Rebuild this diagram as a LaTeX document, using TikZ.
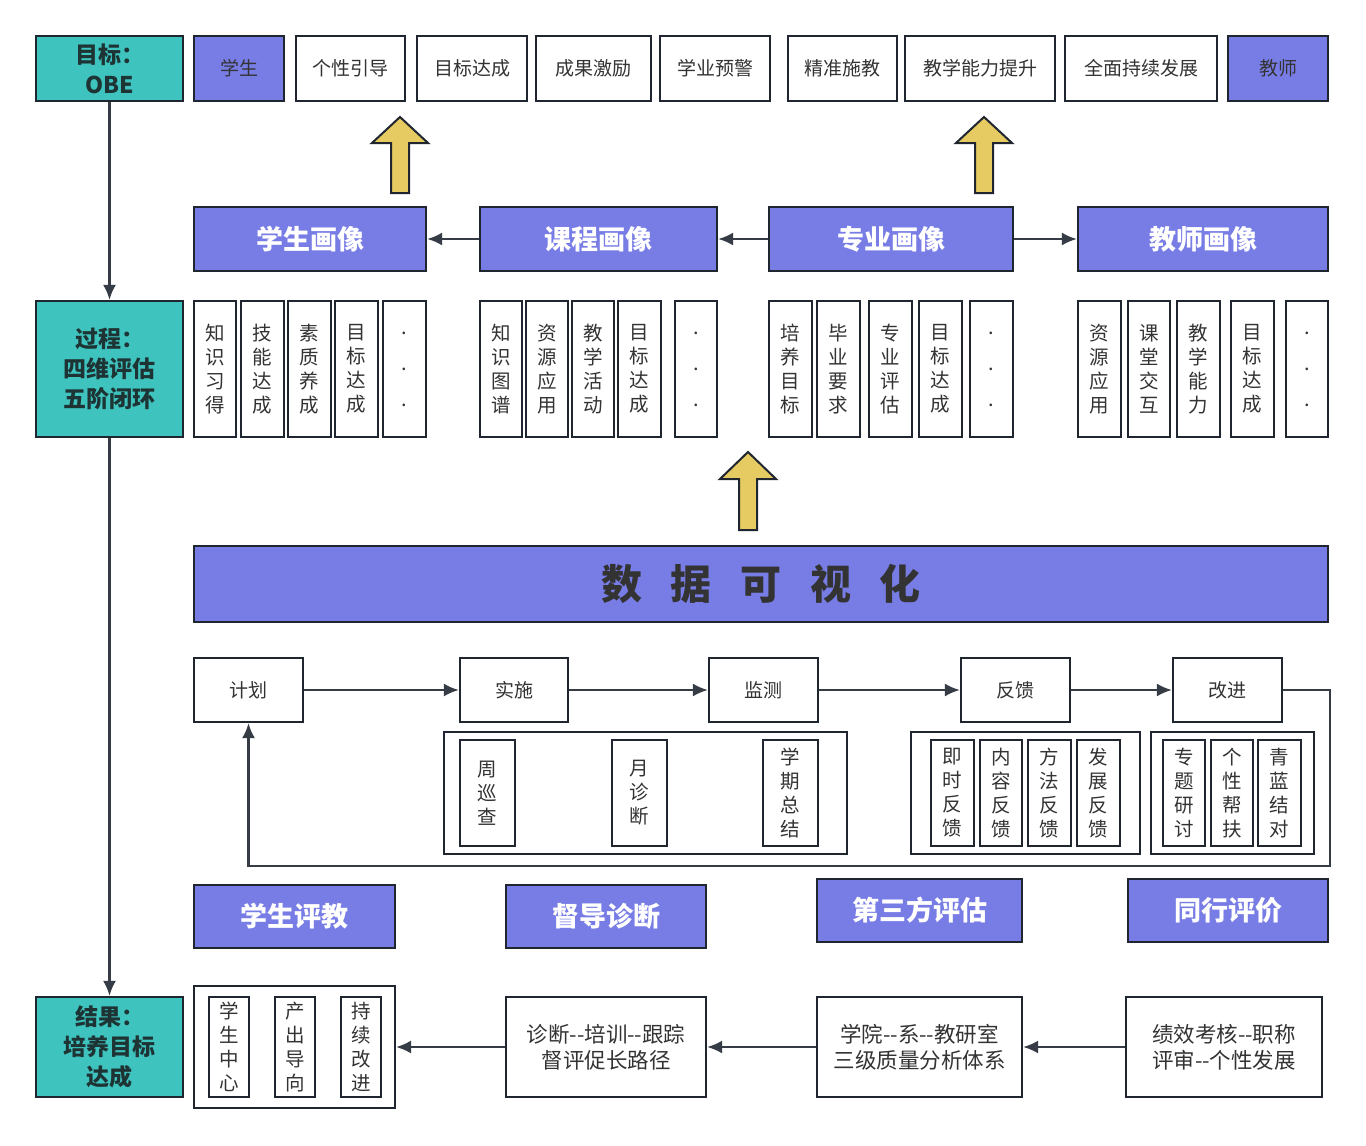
\documentclass[tikz,border=0pt]{standalone}
\usepackage{fontspec}
\setmainfont{Noto Sans CJK SC}[BoldFont={Noto Sans CJK SC Black}]
\usetikzlibrary{arrows.meta}
\definecolor{violetc}{HTML}{787DE6}
\definecolor{tealc}{HTML}{3EC3BF}
\definecolor{framec}{HTML}{1F2630}
\definecolor{txtc}{HTML}{333333}
\definecolor{stagetxt}{HTML}{1E3434}
\definecolor{arrowc}{HTML}{E5CB62}

\begin{document}
\begin{tikzpicture}[x=1pt,y=-1pt,
  sz/.style 2 args={minimum width=#1,minimum height=#2},
  box/.style={draw=framec,line width=2.2pt,fill=white,inner sep=0pt,text=txtc,align=center,font=\fontsize{19}{22}\selectfont},
  stage/.style={box,fill=tealc,text=stagetxt,font=\bfseries\fontsize{23}{30}\selectfont},
  head/.style={box,fill=violetc,text=white,font=\bfseries\fontsize{27}{30}\selectfont},
  who/.style={box,fill=violetc},
  vcol/.style={box,font=\fontsize{19.5}{24}\selectfont},
  dots/.style={box,font=\fontsize{20}{36}\selectfont},
  grp/.style={draw=framec,line width=2pt,fill=white,inner sep=0pt},
  conn/.style={draw=framec!90!white,line width=2.3pt,-{Latex[length=15pt,width=13pt]}},
  uparrow/.style={draw=framec,line width=2pt,fill=arrowc,line join=miter}]
\useasboundingbox[fill=white] (0,0) rectangle (1366,1146);

% goal row
\node[stage,sz={147}{65}] (obe) at (109.5,68.5) {目标：\\OBE};
\node[who,sz={90}{65}] (stu) at (239,68.5) {学生};
\node[box,sz={109}{65}] (t1) at (350.5,68.5) {个性引导};
\node[box,sz={110}{65}] (t2) at (472,68.5) {目标达成};
\node[box,sz={115}{65}] (t3) at (593.5,68.5) {成果激励};
\node[box,sz={110}{65}] (t4) at (715,68.5) {学业预警};
\node[box,sz={109}{65}] (t5) at (842.5,68.5) {精准施教};
\node[box,sz={150}{65}] (t6) at (980,68.5) {教学能力提升};
\node[box,sz={152}{65}] (t7) at (1141,68.5) {全面持续发展};
\node[who,sz={100}{65}] (tea) at (1278,68.5) {教师};

\draw[uparrow,shift={(400,117)}] (0,0) -- (28,26) -- (9,26) -- (9,76) -- (-9,76) -- (-9,26) -- (-28,26) -- cycle;
\draw[uparrow,shift={(984,117)}] (0,0) -- (28,26) -- (9,26) -- (9,76) -- (-9,76) -- (-9,26) -- (-28,26) -- cycle;

% portraits
\node[head,sz={232}{64}] (h1) at (310,239) {学生画像};
\node[head,sz={237}{64}] (h2) at (598.5,239) {课程画像};
\node[head,sz={244}{64}] (h3) at (891,239) {专业画像};
\node[head,sz={250}{64}] (h4) at (1203,239) {教师画像};

\node[stage,sz={147}{136}] (proc) at (109.5,369) {过程：\\四维评估\\五阶闭环};

\node[vcol,sz={42}{136}] (s1) at (215,369) {知\\识\\习\\得};
\node[vcol,sz={43}{136}] (s2) at (262.5,369) {技\\能\\达\\成};
\node[vcol,sz={43}{136}] (s3) at (309.5,369) {素\\质\\养\\成};
\node[vcol,sz={43}{136}] (s4) at (356.5,369) {目\\标\\达\\成};
\node[dots,sz={43}{136}] (s5) at (404.5,369) {.\\.\\.};

\node[vcol,sz={42}{136}] (c1) at (501,369) {知\\识\\图\\谱};
\node[vcol,sz={42}{136}] (c2) at (547,369) {资\\源\\应\\用};
\node[vcol,sz={42}{136}] (c3) at (593,369) {教\\学\\活\\动};
\node[vcol,sz={43}{136}] (c4) at (639.5,369) {目\\标\\达\\成};
\node[dots,sz={42}{136}] (c5) at (696,369) {.\\.\\.};

\node[vcol,sz={43}{136}] (m1) at (790.5,369) {培\\养\\目\\标};
\node[vcol,sz={43}{136}] (m2) at (838.5,369) {毕\\业\\要\\求};
\node[vcol,sz={43}{136}] (m3) at (890.5,369) {专\\业\\评\\估};
\node[vcol,sz={43}{136}] (m4) at (940.5,369) {目\\标\\达\\成};
\node[dots,sz={43}{136}] (m5) at (991.5,369) {.\\.\\.};

\node[vcol,sz={43}{136}] (p1) at (1099.5,369) {资\\源\\应\\用};
\node[vcol,sz={42}{136}] (p2) at (1149,369) {课\\堂\\交\\互};
\node[vcol,sz={43}{136}] (p3) at (1198.5,369) {教\\学\\能\\力};
\node[vcol,sz={43}{136}] (p4) at (1252.5,369) {目\\标\\达\\成};
\node[dots,sz={42}{136}] (p5) at (1307,369) {.\\.\\.};

\draw[conn] (h2.west) -- (h1.east);
\draw[conn] (h3.west) -- (h2.east);
\draw[conn] (h3.east) -- (h4.west);

\draw[uparrow,shift={(748,452)}] (0,0) -- (28,27) -- (9,27) -- (9,78) -- (-9,78) -- (-9,27) -- (-28,27) -- cycle;

\node[box,fill=violetc,text=txtc,sz={1134}{76},font=\bfseries\fontsize{41}{44}\selectfont] (viz) at (761,584)
  {数\hspace{.7em}据\hspace{.7em}可\hspace{.7em}视\hspace{.7em}化};

% five stages
\node[box,sz={109}{64}] (plan) at (248.5,690) {计划};
\node[box,sz={108}{64}] (do) at (514,690) {实施};
\node[box,sz={109}{64}] (mon) at (763.5,690) {监测};
\node[box,sz={109}{64}] (fb) at (1015.5,690) {反馈};
\node[box,sz={109}{64}] (imp) at (1227.5,690) {改进};

\node[grp,sz={403}{122}] (g1) at (645.5,793) {};
\node[grp,sz={229}{122}] (g2) at (1025.5,793) {};
\node[grp,sz={163}{122}] (g3) at (1232.5,793) {};

\node[vcol,sz={55}{106}] (w1) at (487.5,793) {周\\巡\\查};
\node[vcol,sz={55}{106}] (w2) at (639.5,793) {月\\诊\\断};
\node[vcol,sz={55}{106}] (w3) at (790.5,793) {学\\期\\总\\结};

\node[vcol,sz={43}{106}] (f1) at (952.5,793) {即\\时\\反\\馈};
\node[vcol,sz={42}{106}] (f2) at (1001,793) {内\\容\\反\\馈};
\node[vcol,sz={43}{106}] (f3) at (1049.5,793) {方\\法\\反\\馈};
\node[vcol,sz={43}{106}] (f4) at (1098.5,793) {发\\展\\反\\馈};

\node[vcol,sz={42}{106}] (i1) at (1184,793) {专\\题\\研\\讨};
\node[vcol,sz={42}{106}] (i2) at (1232,793) {个\\性\\帮\\扶};
\node[vcol,sz={43}{106}] (i3) at (1279.5,793) {青\\蓝\\结\\对};

\draw[conn] (plan) -- (do);
\draw[conn] (do) -- (mon);
\draw[conn] (mon) -- (fb);
\draw[conn] (fb) -- (imp);
\coordinate (loop) at (1330,866);
\draw[conn] (imp.east) -| (loop) -| (plan.south);

% evaluators
\node[head,sz={201}{63}] (e1) at (294.5,916.5) {学生评教};
\node[head,sz={200}{63}] (e2) at (606,916.5) {督导诊断};
\node[head,sz={205}{63}] (e3) at (919.5,910.5) {第三方评估};
\node[head,sz={200}{63}] (e4) at (1228,910.5) {同行评价};

% result row
\node[stage,sz={147}{100}] (res) at (109.5,1047) {结果：\\培养目标\\达成};
\node[grp,sz={201}{122}] (g4) at (294.5,1047) {};
\node[vcol,sz={40}{100}] (r1) at (229,1047) {学\\生\\中\\心};
\node[vcol,sz={40}{100}] (r2) at (295,1047) {产\\出\\导\\向};
\node[vcol,sz={40}{100}] (r3) at (361,1047) {持\\续\\改\\进};
\node[box,sz={200}{100},font=\fontsize{21.5}{26}\selectfont] (b1) at (606,1047) {诊断-{}-培训-{}-跟踪\\督评促长路径};
\node[box,sz={205}{100},font=\fontsize{21.5}{26}\selectfont] (b2) at (919.5,1047) {学院-{}-系-{}-教研室\\三级质量分析体系};
\node[box,sz={196}{100},font=\fontsize{21.5}{26}\selectfont] (b3) at (1224,1047) {绩效考核-{}-职称\\评审-{}-个性发展};

\draw[conn] (b1.west) -- (g4.east);
\draw[conn] (b2.west) -- (b1.east);
\draw[conn] (b3.west) -- (b2.east);

\draw[conn] (obe.south) -- (proc.north);
\draw[conn] (proc.south) -- (res.north);
\end{tikzpicture}
\end{document}
